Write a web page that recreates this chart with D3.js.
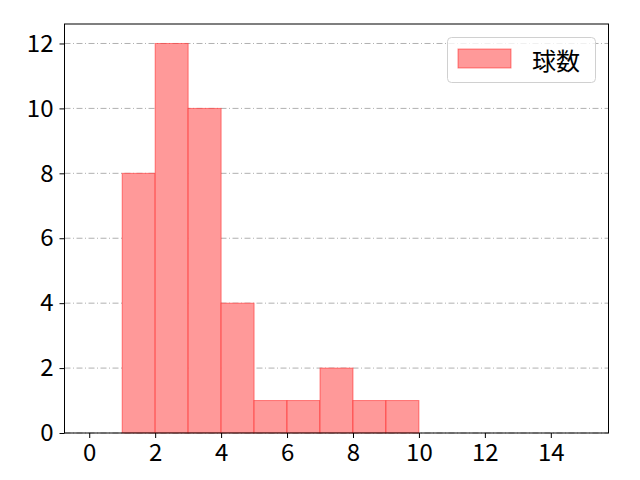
<!DOCTYPE html>
<html>
<head>
<meta charset="utf-8">
<script src="https://cdn.jsdelivr.net/npm/d3@7"></script>
<style>
  html, body { margin: 0; padding: 0; background: #fff; }
  svg { display: block; }
</style>
</head>
<body>
<div id="chart"></div>
<script>
// ビンの左端と度数（0〜15、幅1）
const binEdges = [0, 1, 2, 3, 4, 5, 6, 7, 8, 9, 10, 11, 12, 13, 14, 15]
const counts = [0, 8, 12, 10, 4, 1, 1, 2, 1, 1, 0, 0, 0, 0, 0]
const xTicks = [0, 2, 4, 6, 8, 10, 12, 14]
const yTicks = [0, 2, 4, 6, 8, 10, 12]
const seriesName = '球数'

const config = {
  width: 640,
  height: 480,
  marginLeft: 64.5,
  plotRight: 608.5,
  plotTop: 24,
  plotBottom: 433,
  font: '"Noto Sans CJK JP", "Noto Sans", sans-serif',
  fontSize: 24,
  colors: {
    fill: '#ff9999',
    edge: 'rgba(255,0,0,0.45)',
    grid: '#b0b0b0',
    text: '#000'
  }
}

function drawChart() {
  const { width, height, marginLeft, plotRight, plotTop, plotBottom, font, fontSize, colors } = config

  const svg = d3.select('#chart')
    .append('svg')
    .attr('width', width)
    .attr('height', height)

  const x = d3.scaleLinear().domain([-0.75, 15.75]).range([marginLeft, plotRight])
  const y = d3.scaleLinear().domain([0, 12.6]).range([plotBottom, plotTop])

  // グリッド（横のみ、一点鎖線）
  svg.append('g')
    .selectAll('line')
    .data(yTicks)
    .enter()
    .append('line')
    .attr('x1', marginLeft)
    .attr('x2', plotRight)
    .attr('y1', d => y(d))
    .attr('y2', d => y(d))
    .attr('stroke', colors.grid)
    .attr('stroke-width', 1)
    .attr('stroke-dasharray', '6,2.5,1,2.5')

  // ヒストグラムの棒
  const bins = counts.map((c, i) => ({ x0: binEdges[i], x1: binEdges[i + 1], count: c }))

  svg.append('g')
    .selectAll('rect')
    .data(bins)
    .enter()
    .append('rect')
    .attr('x', d => x(d.x0))
    .attr('y', d => y(d.count))
    .attr('width', d => x(d.x1) - x(d.x0))
    .attr('height', d => y(0) - y(d.count))
    .attr('fill', colors.fill)
    .attr('stroke', colors.edge)
    .attr('stroke-width', 1)

  // 枠線
  svg.append('rect')
    .attr('x', marginLeft)
    .attr('y', plotTop)
    .attr('width', plotRight - marginLeft)
    .attr('height', plotBottom - plotTop)
    .attr('fill', 'none')
    .attr('stroke', '#000')
    .attr('stroke-width', 1)

  // X軸
  const xAxis = svg.append('g')
    .attr('transform', `translate(0,${plotBottom})`)
    .call(d3.axisBottom(x).tickValues(xTicks).tickSize(5).tickPadding(6).tickFormat(d3.format('d')))
  xAxis.select('.domain').remove()

  // Y軸
  const yAxis = svg.append('g')
    .attr('transform', `translate(${marginLeft},0)`)
    .call(d3.axisLeft(y).tickValues(yTicks).tickSize(5).tickPadding(6).tickFormat(d3.format('d')))
  yAxis.select('.domain').remove()

  svg.selectAll('.tick text')
    .style('font-family', font)
    .style('font-size', fontSize + 'px')
    .style('fill', colors.text)
  svg.selectAll('.tick line')
    .attr('stroke', '#000')
    .attr('stroke-width', 1)

  // 凡例
  const legend = svg.append('g')

  legend.append('rect')
    .attr('x', 447.5)
    .attr('y', 37.5)
    .attr('width', 148)
    .attr('height', 45)
    .attr('rx', 4)
    .attr('fill', '#fff')
    .attr('fill-opacity', 0.8)
    .attr('stroke', '#d0d0d0')
    .attr('stroke-width', 1)

  legend.append('rect')
    .attr('x', 458)
    .attr('y', 49)
    .attr('width', 53)
    .attr('height', 19)
    .attr('fill', colors.fill)
    .attr('stroke', colors.edge)
    .attr('stroke-width', 1)

  legend.append('text')
    .attr('x', 532)
    .attr('y', 59)
    .attr('dominant-baseline', 'central')
    .style('font-family', font)
    .style('font-size', fontSize + 'px')
    .style('fill', colors.text)
    .text(seriesName)
}

drawChart()
</script>
</body>
</html>
